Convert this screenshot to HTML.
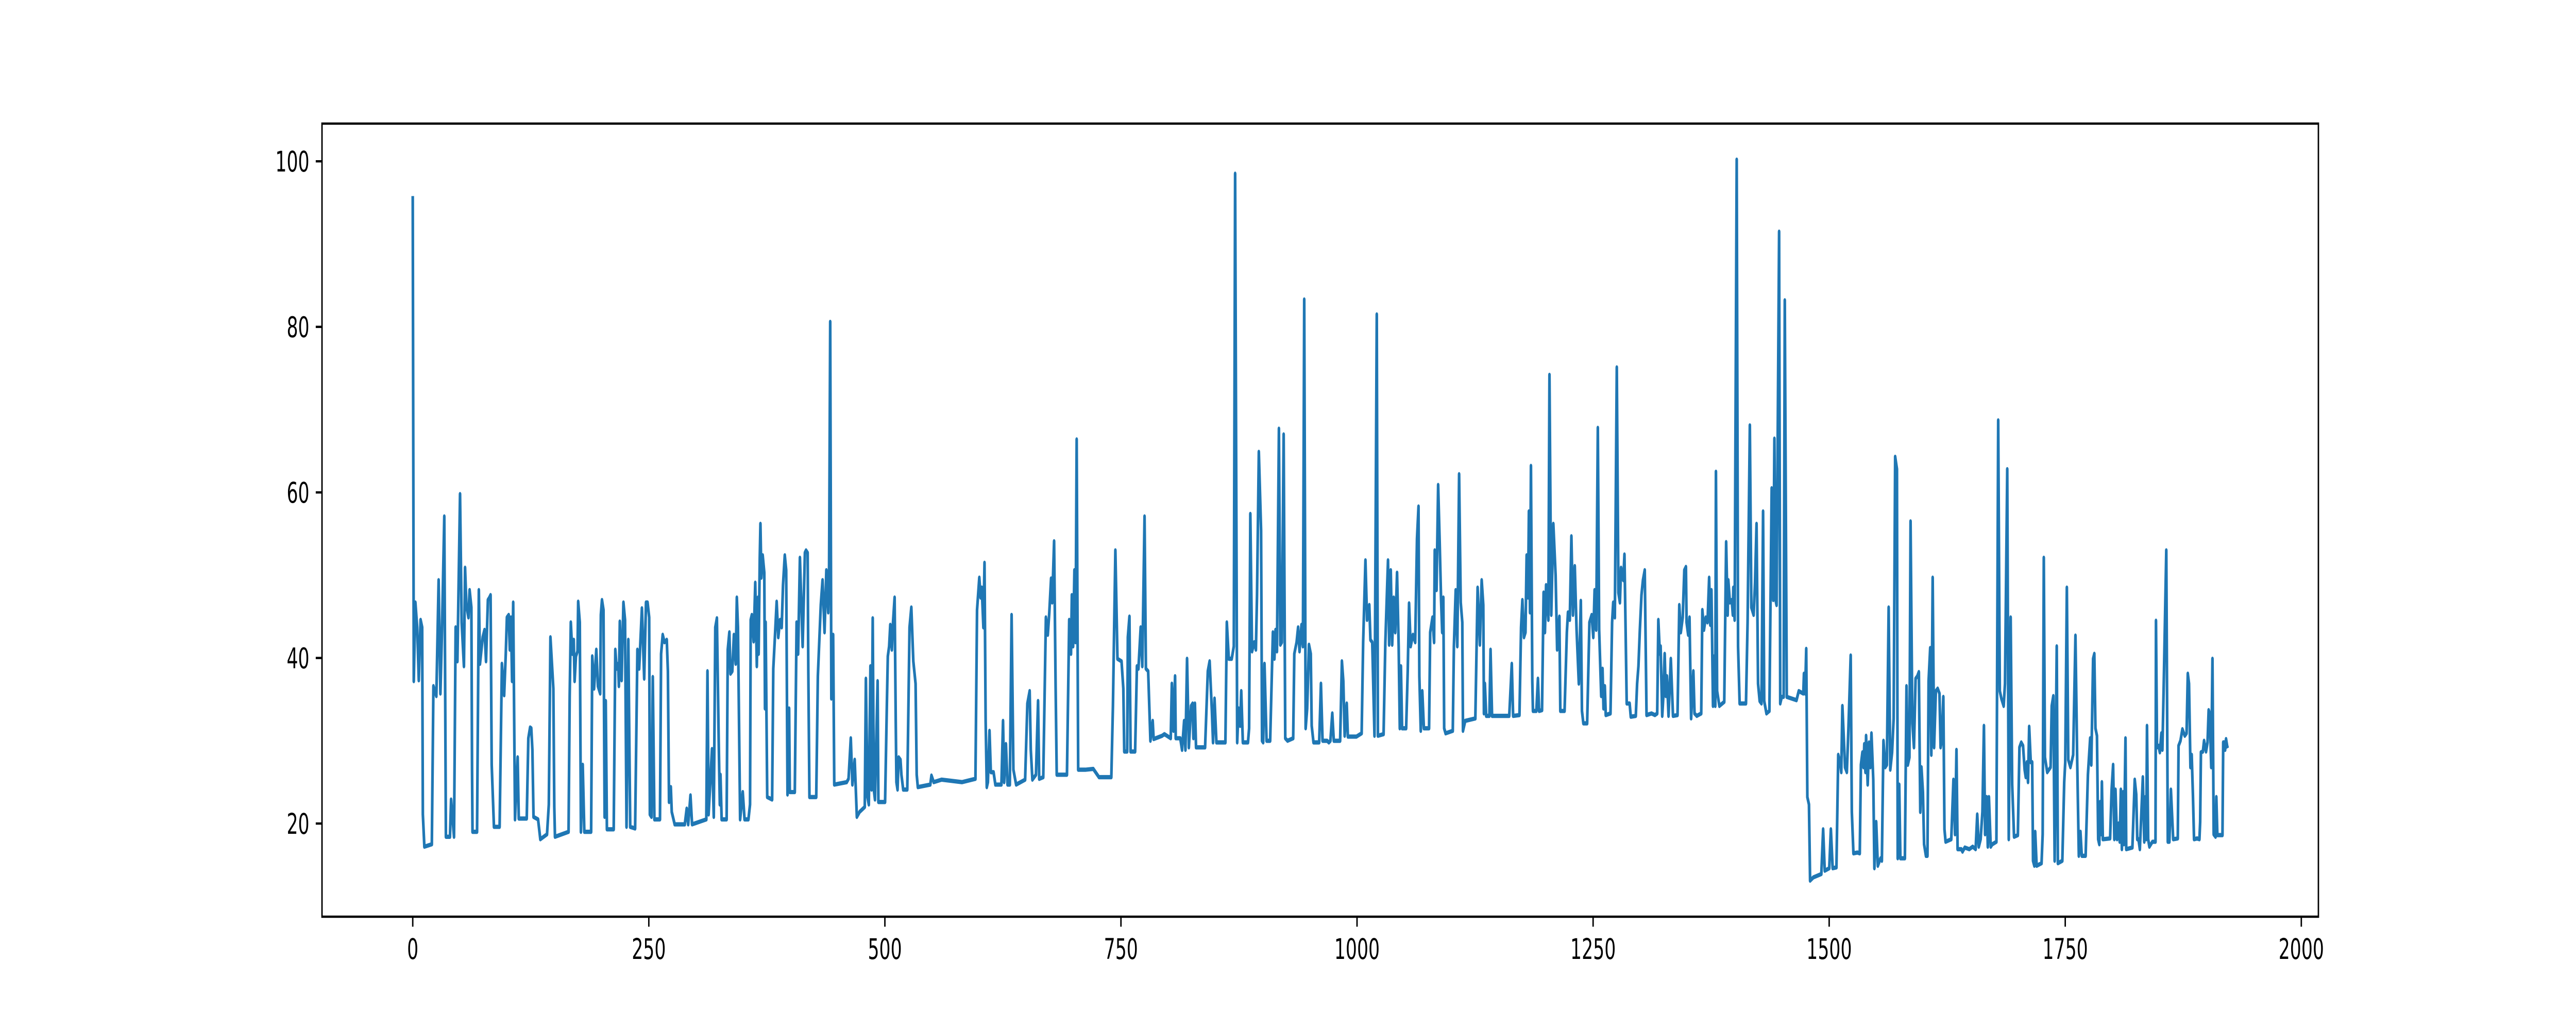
<!DOCTYPE html>
<html>
<head>
<meta charset="utf-8">
<style>
html,body{margin:0;padding:0;background:#fff;width:100%;height:100%;overflow:hidden;}
svg{display:block;width:100vw;height:100vh;}
text{font-family:"DejaVu Sans","Liberation Sans",sans-serif;font-size:55.5px;fill:#000;}
</style>
</head>
<body>
<svg id="chart" viewBox="0 0 8000 2000" preserveAspectRatio="none" xmlns="http://www.w3.org/2000/svg">
<rect x="0" y="0" width="8000" height="2000" fill="#ffffff"/>
<g id="plot"></g>
<g id="axes"></g>
</svg>
<script>
const xTicks = [0, 250, 500, 750, 1000, 1250, 1500, 1750, 2000];
const xTickLabels = ["0", "250", "500", "750", "1000", "1250", "1500", "1750", "2000"];
const yTicks = [20, 40, 60, 80, 100];
const yTickLabels = ["20", "40", "60", "80", "100"];
const xs = [0,1.1,2.8,4.7,6.4,8.3,10,10.7,12.3,20.2,21.9,25,27.4,29.3,31,33.4,35.1,39.4,40.6,43.7,45.4,47.3,50.1,51.8,54.2,55.4,56.8,59,60.2,62.1,62.8,63.3,68.1,70,71.2,74.1,76,77.6,79.6,81.2,82.4,83.6,86,92,94.4,96.8,98.5,99.7,101.6,102.8,104,105.2,106.4,108.3,111.1,112.3,120.7,122.4,124.3,125.5,126.7,127.9,132.7,135.1,142.2,144.1,145.8,148.9,149.9,150.6,165,166.2,167.4,169,170.5,171.4,172.8,174.5,175.2,176.9,178.1,180,181.7,188.9,190.1,192,194.4,196.1,198.5,199.2,200.4,202,203.2,204.4,205.6,212.8,214.5,215.9,217.6,218.3,219.3,221.2,223.1,224.8,226.4,228.3,230.3,235.5,237.9,239.8,242.7,245.1,247,248.7,250.4,251.1,252.8,254.2,255.9,261.8,263,264.7,266.6,269,270.2,271.4,273.3,274.3,277.4,288.1,290.1,291.7,294.1,295.8,310.9,312.1,313.3,316.9,318.8,320.4,322.1,324,325.2,325.9,327.1,332.4,333.6,335.3,336.5,338.4,340.1,342,343.2,344.4,346.7,
349.5,351.4,355.5,357.2,357.9,359.1,361,362.7,364.4,365.6,366.3,367.5,368.2,369.2,370.6,372.3,373,373.7,375.4,380.6,381.8,383.5,385.4,387.1,389,390.7,392.1,394,395.5,396.9,398.6,399.3,404.6,406.5,408.1,410,412.9,415.3,416.5,418.2,418.9,420.1,427.3,429,432.1,434,436.1,438,440,440.9,442.1,443.3,445.2,446.4,459.6,461.5,463.9,465.6,468,470.3,473.2,478.7,479.9,481.6,483,484.7,485.9,487.1,488.3,489.5,492.3,493.1,500.2,502.1,503.1,504.5,505.7,507.4,508.6,510.3,511.5,512.2,513.4,514.6,516.5,517.5,519.4,523.7,526.1,528,530.1,532.5,533.7,534.9,548.1,549.3,551.7,560,581.6,595.9,597.6,600,601.4,602.6,604.3,605.5,606.7,607.9,609.1,610.8,612.2,615.1,617,623.4,625.1,626.3,628.2,629.9,632.3,634.2,636.1,639,648.5,650.9,653.3,654.5,656.2,660,662.2,663.4,667.7,670.5,672.5,674.1,676,677.2,679.2,680.8,682,692.8,695.2,697.1,698,699.3,700.7,701.9,703.1,704.7,
712.3,720.7,726.7,739.8,741.5,744.1,746.3,750.6,752.5,753.5,756.6,757.3,759,760.2,765,766.9,768.5,770.9,772.6,775,776.4,778.8,781.2,783.6,784.6,793.6,796,802.7,803.9,805.6,807.3,808,812.8,814.7,816.9,818.3,820,821.9,824.3,825.9,826.7,828.3,829.5,839.1,842,843.9,846.3,847.5,849.1,851.1,860.6,862.1,864.2,867.3,869.5,870.9,873.1,874.5,876.2,877.4,879.1,884.5,885.7,887,888.8,891.2,892.9,894.1,896,898.4,899.4,900.6,902,904.2,908,910.9,912.5,913.7,915.2,917.3,918.8,920.4,922.3,924,926.4,932.4,933.6,936,937.6,939.1,941.2,942.7,944.1,945.6,947.2,949.1,951,952,953.9,959.9,961.8,963.5,968.3,970.2,971.8,973.8,975.4,982.1,984,985.5,986.9,989.1,990.3,999.4,1004.9,1006.5,1008.9,1010.6,1013,1014.2,1016.1,1018.5,1020.9,1022.1,1028.1,1030,1031.7,1032.8,1034,1035.7,1037.2,1038.8,1040.5,1042.4,1044.1,1045.3,1046.5,1047.7,1052,1053.7,1055.1,1056.8,1059.2,1061.6,1063.5,
1065.1,1066,1067.5,1069.1,1070.8,1076.3,1077.5,1079.9,1081.6,1082.3,1084.2,1085.9,1087.5,1089,1090.2,1091.4,1092.3,1093.8,1101.4,1102.6,1104.5,1106.2,1108.1,1109.8,1111.5,1112.2,1114.6,1125.3,1127.7,1130.1,1132,1133.7,1134.4,1135.4,1136.8,1140.2,1141.4,1143,1161.2,1163.9,1165.3,1172,1173.7,1175.1,1176.8,1178.4,1179.6,1181.1,1182,1183.2,1184.2,1185.6,1186.3,1189.9,1191.6,1192.8,1195.9,1197.6,1199,1200.2,1202.6,1203.8,1205.7,1207.9,1210.3,1211.9,1214.3,1215.3,1219.8,1222.2,1223.4,1225.3,1227,1228.7,1230.6,1232.5,1234.9,1237,1238.2,1239.7,1243.7,1246.1,1248.5,1250.2,1251.6,1253.3,1255,1256.4,1258.6,1260,1261,1262.4,1263.4,1268.4,1270.1,1271.3,1273,1275.1,1276.8,1278.4,1279.6,1282,1283.2,1285.6,1288.7,1289.9,1295.2,1296.6,1298,1299.5,1301.2,1302.8,1304.7,1306.6,1311.9,1315.5,1317.9,1319.1,1320.7,1321.5,1323.2,1324.4,1325.8,1327,1328.2,1329.9,1332.3,1334.6,1339.4,1341.3,1342.9,1344.9,1346.6,1348.3,1349,1350.7,1352.1,1353.8,1356.2,1357.4,1359.8,1364.5,1365.7,1367.4,1369.3,1371.2,1372.9,1374.1,1375.3,1377,1378.4,1379.4,1380.1,1381.3,1383.7,1388.9,1390.9,1392.5,1393.2,1394.9,1396.8,1398,1398.5,1399.9,1402.1,1403.5,1405.2,1407.6,1411.9,1413.6,1416,1417.6,1420,1421.5,
1423.1,1424.7,1426.4,1428.3,1430,1431.2,1433.6,1436.7,1439.1,1440.8,1442,1443.2,1444.3,1447,1448.2,1449.8,1451.8,1453,1455.1,1465.4,1467.8,1472.6,1473.3,1474.5,1475.7,1476.9,1478.6,1479.8,1483.3,1491.7,1493.6,1495.3,1500.1,1501.8,1503.7,1507.7,1509.6,1511.6,1512.8,1514,1515.6,1516.8,1518.7,1520.4,1522.8,1524,1525.7,1530,1532.4,1533.6,1535.2,1536.4,1537.2,1538.4,1539.1,1540.8,1542.2,1543.6,1544.8,1546.7,1547.9,1549.8,1551.5,1554.4,1555.8,1557.5,1559.4,1561.1,1563,1564.7,1566.6,1568.3,1569.9,1571.8,1572.6,1574.2,1575.4,1580.2,1581.9,1583.3,1585,1586.2,1588.1,1589.8,1591.5,1593.4,1595,1596.5,1597.7,1599.3,1600.5,1602.5,1604.1,1605.3,1607,1608.2,1609.6,1611.1,1613,1614.9,1616.8,1618,1619.2,1620.9,1622.1,1623.3,1629.3,1631.6,1633.3,1634.8,1636,1640,1641.2,1643.6,1648.4,1652,1655.1,1656.8,1658.4,1660.4,1662.3,1663.9,1665.1,1666.8,1668,1669.2,1671.1,1672.8,1677.1,1679,1680.7,1682.4,1684.8,1686.2,1688.6,1690.2,1692.2,1693.8,1695.8,1699.8,1701.5,1703.4,1705.3,1707,1708.2,1709.4,1710.6,1711.8,1713.5,1715,1715.9,1717.3,1718.2,1719.7,1724.9,1726.1,1727.3,1728.5,1730.9,1734.5,1735.7,1737.4,1738.8,1741,1742.2,1746.9,1748.9,1750,1751.7,1753.2,1755.5,1758.4,1760.8,1762.7,1764.4,1766.1,1767.5,1771.6,1774,1776.4,1777.6,1779.5,
1780.8,1782,1783.6,1784.9,1786.1,1786.9,1788.2,1788.8,1789.8,1797.5,1799.1,1800.7,1802,1803.2,1804.8,1806.4,1807.7,1808.9,1810,1811.3,1812.2,1813.8,1814.6,1821.1,1823.6,1825.2,1826.3,1827.6,1829,1832.2,1833.7,1835,1835.8,1836.6,1837.8,1839.1,1842.3,1845.6,1846.1,1847.2,1848.8,1850.2,1851.8,1852.9,1854.6,1857,1858.6,1860.3,1861.9,1864.3,1869.2,1870,1872,1874.1,1876.6,1878.5,1879.8,1881.1,1882.6,1883.9,1885.2,1886.4,1889.6,1892.1,1892.9,1893.7,1895.8,1897,1899.1,1900.7,1901.9,1903,1904.6,1905.9,1907.2,1909.2,1910,1911.1,1916.5,1917.3,1918.6,1919.3,1920.3,1921.4,1922];
const ys = [95.8,37.2,46.7,43.7,37.3,44.6,43.7,21.1,17.2,17.5,36.6,35.4,49.4,35.7,43.4,57.1,18.4,18.4,22.9,18.4,43.7,39.6,59.8,44.3,39,50.9,46.4,44.9,48.2,46.1,26.5,19,19,48.2,39.3,42.5,43.4,39.6,47,47.3,47.6,27.1,19.6,19.6,39.3,35.5,40.5,44.9,45.2,41,44.9,37.2,46.7,20.5,28,20.6,20.6,30.3,31.6,31.5,28.9,20.8,20.5,18.1,18.7,22.3,42.5,36.3,22,18.4,19,35.4,44.3,40.5,42.2,37.2,40.2,40.8,46.8,44.3,19,27.1,19,19,40.2,36.3,41,36.6,35.7,45.2,47,45.8,20.8,34.8,19.3,19.3,41,38.7,39.3,36.6,44.4,37.3,46.7,44.6,19.6,42.2,19.6,19.4,41,38.7,46,37.5,46.7,46.7,44.9,21.1,20.8,37.7,20.5,20.5,40.5,42.8,41.9,42.2,38.4,22.6,24.4,21.4,19.9,19.9,21.8,19.9,23.4,19.9,20.5,38.4,21.1,29,20.8,43.7,44.8,30,22.3,25.9,20.5,20.5,41,43.1,38.1,38.4,42.8,39.3,47.3,43.7,20.5,
23.8,20.5,20.5,22.3,44.6,45.2,42,49.1,39,47.3,40.5,52.1,56.2,49.7,52.4,50.3,33.9,44.3,23.2,22.9,38.7,42.5,46.8,42.5,44.6,43.7,48.8,52.4,50.6,23.5,33.9,23.8,23.8,44.3,40.5,52.1,41.4,52.7,53,52.7,38.4,23.2,23.2,37.8,46.4,49.4,43.1,50.6,45.5,50.9,80.6,35.1,42.8,24.7,25,25.4,30.3,24.7,27.7,20.8,21.4,22,37.5,23.2,22.3,39,24.1,44.8,24.1,22.9,37.2,22.6,22.6,34.5,40.2,41.4,44,41,44.3,47.3,32.4,25,24.1,28,27.7,25.9,24.1,24.1,43.7,46.1,39.6,36.9,25.9,24.4,24.7,25.8,25,25.3,25,25.4,45.8,49.7,47.3,48.5,43.7,51.5,32.4,24.4,25,31.2,26.2,26.2,24.7,24.7,32.4,25,29.6,24.7,24.7,45.2,26.5,24.7,25.3,34.5,36,28.9,25.3,25.9,34.8,25.4,25.6,44.9,42.8,45.5,49.6,46.7,54.1,36.6,25.9,25.9,44.6,40.5,47.6,41.4,50.6,41.9,66.4,26.5,
26.5,26.6,25.6,25.6,34.2,53,39.9,39.6,36.3,28.7,28.7,42.5,45,28.7,28.7,39,38.7,43.7,39,57.1,38.7,38.4,30,32.4,30.2,30.6,30.8,30.3,36.9,31.2,37.8,30.3,30.3,28.9,32.4,28.9,39.9,29.2,34.2,34.5,30.3,34.5,29.2,29.2,38.4,39.6,33.6,29.8,35.1,29.8,29.8,44.3,39.9,39.9,41.4,98.5,29.8,33.9,31.8,36,29.8,29.8,31.5,57.4,40.8,41.9,41,47.6,64.9,55.4,30,29.8,39.3,30,30,43.1,39.9,43.4,40.8,67.7,41.6,41.9,67,30.3,30,30.3,40.5,41.9,43.7,40.8,44,41.4,83.3,31.5,33.9,41.6,40.5,31.8,29.8,29.8,36.9,30,30,29.8,30,33.3,30,30,39.6,37.2,30.6,34.5,30.5,30.5,30.9,41.9,51.8,44.6,46.4,42.2,41.9,30.6,81.5,30.6,30.8,41.9,47.9,51.8,41.6,50.6,41.6,47.3,43.1,50.3,41.4,31.5,39,31.5,31.5,38.4,46.6,41.4,42.8,41.9,54.4,
58.3,37.8,31.2,36,31.5,31.5,43.1,44.9,41.9,53,48.2,60.9,54.1,47,43.1,47.3,31.5,30.9,31.2,41.4,48.2,41.4,62.2,46.7,44.3,31.2,32.4,32.7,48.5,41.6,49.4,46.4,33.3,36.9,33,33,41,33,33,39.3,33,33.1,43.7,47,42.5,43.1,52.4,47.3,57.7,45.5,63.2,37.2,33.6,33.6,37.5,33.6,33.7,47.9,43.1,48.8,44.6,74.2,45.2,56.2,50,41,45,33.6,33.6,43.1,45.5,44.6,54.7,45.2,51.1,43.4,36.9,46.9,33.6,32.1,32.1,44.3,45.2,42.5,48.2,43.4,67.8,43.4,35.4,38.7,33.9,36.6,33.1,33.3,44.3,46.7,44.9,75.1,47.9,46.7,50.9,49.4,52.5,34.5,34.5,32.9,33,36.9,39,43.4,47.6,49.4,50.6,33.1,33.3,33.1,33.3,44.6,40.5,41.4,33,35.4,40.5,35.4,37.8,33,39.9,33,33.1,46.4,43.1,44.9,50.6,51,44.3,42.8,44.9,32.7,38.4,33.3,33,33.3,45.8,43.4,44.9,44.3,49.7,44,48.2,34.2,40.2,34.2,62.5,36,34.2,34.7,54,45.2,49.4,46.7,47,45.2,48.5,44.6,100.2,41.4,34.5,34.5,34.5,44.3,68.1,46.1,45.2,49.1,
56.2,36.9,34.8,34.5,57.7,34.8,33.3,33.6,60.5,47,66.5,47,46.4,91.5,34.5,35.3,35.3,83.2,35.3,34.9,36,35.7,38.1,35.7,41.1,23.2,22.3,13.1,13.5,13.9,19.3,14.3,14.6,19.3,14.6,14.7,28.3,27.4,26.2,34.2,30,26.8,26.2,31.5,40.3,21.4,16.4,16.5,16.4,27.1,28.6,26.8,29.6,26.2,30.6,24.7,29.8,26.8,30.9,25.3,14.6,20.2,14.9,15.8,15.5,30,26.8,27.1,46.1,26.5,28.6,32.7,64.3,62.8,15.8,24.7,15.8,15.8,36.6,27.1,28,56.5,32.1,29.2,37.5,37.8,38.3,21.4,26.8,23.8,17.5,16.1,16.1,37.2,41.2,28.3,49.7,29.2,36,36.3,35.7,29.2,30,35.3,19.3,17.8,18.1,25.3,18.7,28.9,16.9,16.9,16.6,17.1,16.9,17.2,16.9,21.1,17.2,18.1,21.4,31.8,18.7,23.2,17.2,23.2,17.2,17.5,17.8,68.7,36,35.1,34.2,36.9,62.8,18.1,44.9,24.7,18.4,18.6,29.2,29.8,29.4,26.5,25.6,27.4,25,31.7,27.4,27.4,15.5,14.9,19,14.9,15.2,18.7,52.1,28,26.2,26.8,34.2,35.4,15.5,41.4,15.2,15.5,25,27.4,48.5,27.7,26.8,28.3,42.7,27.4,16.1,19,16.1,16.1,25.9,30.3,27.1,39.9,
40.5,31.5,30.6,18.1,17.5,22.6,18.7,25,18.1,18.2,24.1,27.1,18.1,24.1,18.1,20,17.8,24.1,16.9,23.8,17.5,30.3,16.9,17.1,25.3,23.5,18.1,18.1,16.9,25.6,17.8,23.2,18.1,31.8,18.1,17.2,17.8,17.8,44.5,29.2,29.4,28.6,30.9,28.9,38.4,53,17.8,17.8,24.1,18.1,18.2,29.4,30,31.4,30.6,30.9,38.1,36.9,26.8,28.3,23.5,18.1,18.2,18.1,20.2,28.6,28.7,30,28.7,29.8,33.7,33.3,26.8,39.9,18.7,18.4,23.2,18.6,18.6,29.8,29.8,28.9,30.2,29.4,29.1];

const AX = {left: 1000, right: 7200, top: 240, bottom: 1780};
const NS = 'http://www.w3.org/2000/svg';
const xMinD = Math.min(...xs), xMaxD = Math.max(...xs);
const yMinD = Math.min(...ys), yMaxD = Math.max(...ys);
const xm = (xMaxD - xMinD) * 0.05, ym = (yMaxD - yMinD) * 0.05;
const x0 = xMinD - xm, x1 = xMaxD + xm, y0 = yMinD - ym, y1 = yMaxD + ym;
function sx(v){ return AX.left + (v - x0) / (x1 - x0) * (AX.right - AX.left); }
function sy(v){ return AX.bottom - (v - y0) / (y1 - y0) * (AX.bottom - AX.top); }

const plot = document.getElementById('plot');
const axes = document.getElementById('axes');

let d = '';
for (let i = 0; i < xs.length; i++) {
  d += (i ? 'L' : 'M') + sx(xs[i]).toFixed(1) + ' ' + sy(ys[i]).toFixed(1);
}
const line = document.createElementNS(NS, 'path');
line.setAttribute('d', d);
line.setAttribute('fill', 'none');
line.setAttribute('stroke', '#1f77b4');
line.setAttribute('stroke-width', '8.33');
line.setAttribute('stroke-linejoin', 'round');


plot.appendChild(line);

const frame = document.createElementNS(NS, 'rect');
frame.setAttribute('x', AX.left);
frame.setAttribute('y', AX.top);
frame.setAttribute('width', AX.right - AX.left);
frame.setAttribute('height', AX.bottom - AX.top);
frame.setAttribute('fill', 'none');
frame.setAttribute('stroke', '#000');
frame.setAttribute('stroke-width', '4.44');


axes.appendChild(frame);

xTicks.forEach((t, i) => {
  const px = sx(t);
  const tk = document.createElementNS(NS, 'line');
  tk.setAttribute('x1', px); tk.setAttribute('x2', px);
  tk.setAttribute('y1', AX.bottom); tk.setAttribute('y2', AX.bottom + 19.4);
  tk.setAttribute('stroke', '#000'); tk.setAttribute('stroke-width', '4.44');
  
  
  axes.appendChild(tk);
  const lb = document.createElementNS(NS, 'text');
  lb.setAttribute('x', px); lb.setAttribute('y', 1862);
  lb.setAttribute('text-anchor', 'middle');
  lb.textContent = xTickLabels[i];
  
  
  axes.appendChild(lb);
});
yTicks.forEach((t, i) => {
  const py = sy(t);
  const tk = document.createElementNS(NS, 'line');
  tk.setAttribute('x1', AX.left - 19.4); tk.setAttribute('x2', AX.left);
  tk.setAttribute('y1', py); tk.setAttribute('y2', py);
  tk.setAttribute('stroke', '#000'); tk.setAttribute('stroke-width', '4.44');
  
  
  axes.appendChild(tk);
  const lb = document.createElementNS(NS, 'text');
  lb.setAttribute('x', AX.left - 39); lb.setAttribute('y', py + 20);
  lb.setAttribute('text-anchor', 'end');
  lb.textContent = yTickLabels[i];
  
  
  axes.appendChild(lb);
});
</script>
</body>
</html>
